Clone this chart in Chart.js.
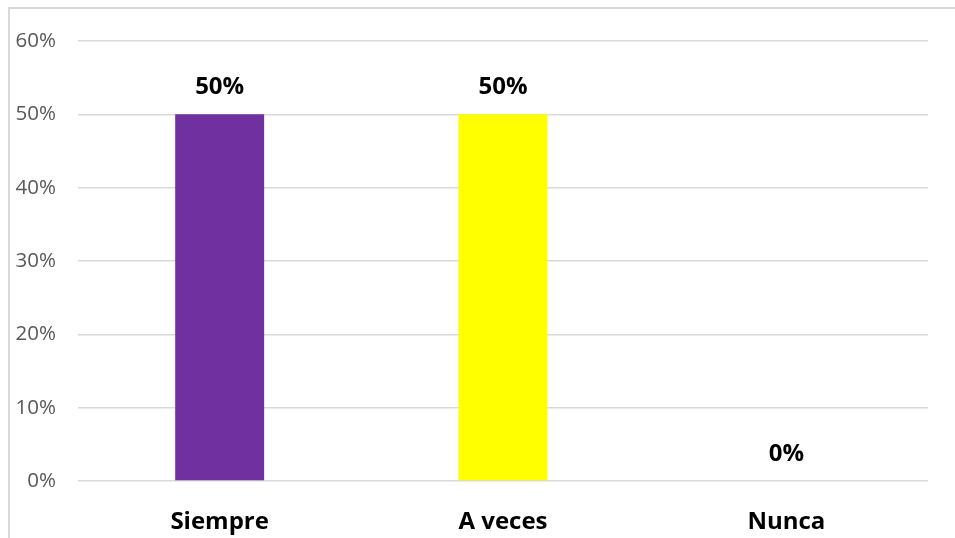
<!DOCTYPE html>
<html>
<head>
<meta charset="utf-8">
<script src="https://cdn.jsdelivr.net/npm/chart.js@4/dist/chart.umd.min.js"></script>
<style>
html,body{margin:0;padding:0;background:#fff;}
#wrap{position:relative;width:955px;height:538px;}
#frame{position:absolute;left:8px;top:7px;right:0;bottom:0;border-left:2px solid #d9d9d9;border-top:2px solid #d9d9d9;pointer-events:none;}
canvas{position:absolute;left:0;top:0;}
</style>
</head>
<body>
<div id="wrap">
<canvas id="c" width="955" height="538"></canvas>
<div id="frame"></div>
</div>
<script>
const categories = ["Siempre", "A veces", "Nunca"];
const values = [50, 50, 0];
const barColors = ["#7030A0", "#FFFF00", "#A5A5A5"];
const yTicks = [0, 10, 20, 30, 40, 50, 60];

const valueLabels = {
  id: 'valueLabels',
  afterDatasetsDraw(chart) {
    const ctx = chart.ctx;
    const meta = chart.getDatasetMeta(0);
    ctx.save();
    ctx.font = 'bold 24px "Open Sans"';
    ctx.fillStyle = '#000';
    ctx.textAlign = 'center';
    ctx.textBaseline = 'alphabetic';
    meta.data.forEach((bar, i) => {
      ctx.fillText(values[i] + '%', bar.x, bar.y - 20);
    });
    ctx.restore();
  }
};

new Chart(document.getElementById('c'), {
  type: 'bar',
  data: {
    labels: categories,
    datasets: [{
      data: values,
      backgroundColor: barColors,
      categoryPercentage: 1,
      barPercentage: 0.314
    }]
  },
  options: {
    responsive: false,
    animation: false,
    layout: { padding: { top: 41, right: 27, left: 0, bottom: 0 } },
    plugins: { legend: { display: false }, tooltip: { enabled: false } },
    scales: {
      x: {
        grid: { display: false, drawTicks: false },
        border: { display: false },
        ticks: { color: '#000', font: { family: 'Open Sans', size: 24, weight: 'bold' }, padding: 27 },
        afterFit(s) { s.height = 57; }
      },
      y: {
        min: 0, max: 60,
        afterBuildTicks(s) { s.ticks = yTicks.map(v => ({ value: v })); },
        grid: { color: '#d9d9d9', lineWidth: 1.5, drawTicks: false },
        border: { display: false },
        ticks: { color: '#595959', font: { family: 'Open Sans', size: 20.5 }, padding: 22, callback: v => v + '%' },
        afterFit(s) { s.width = 78; }
      }
    }
  },
  plugins: [valueLabels]
});
</script>
</body>
</html>
